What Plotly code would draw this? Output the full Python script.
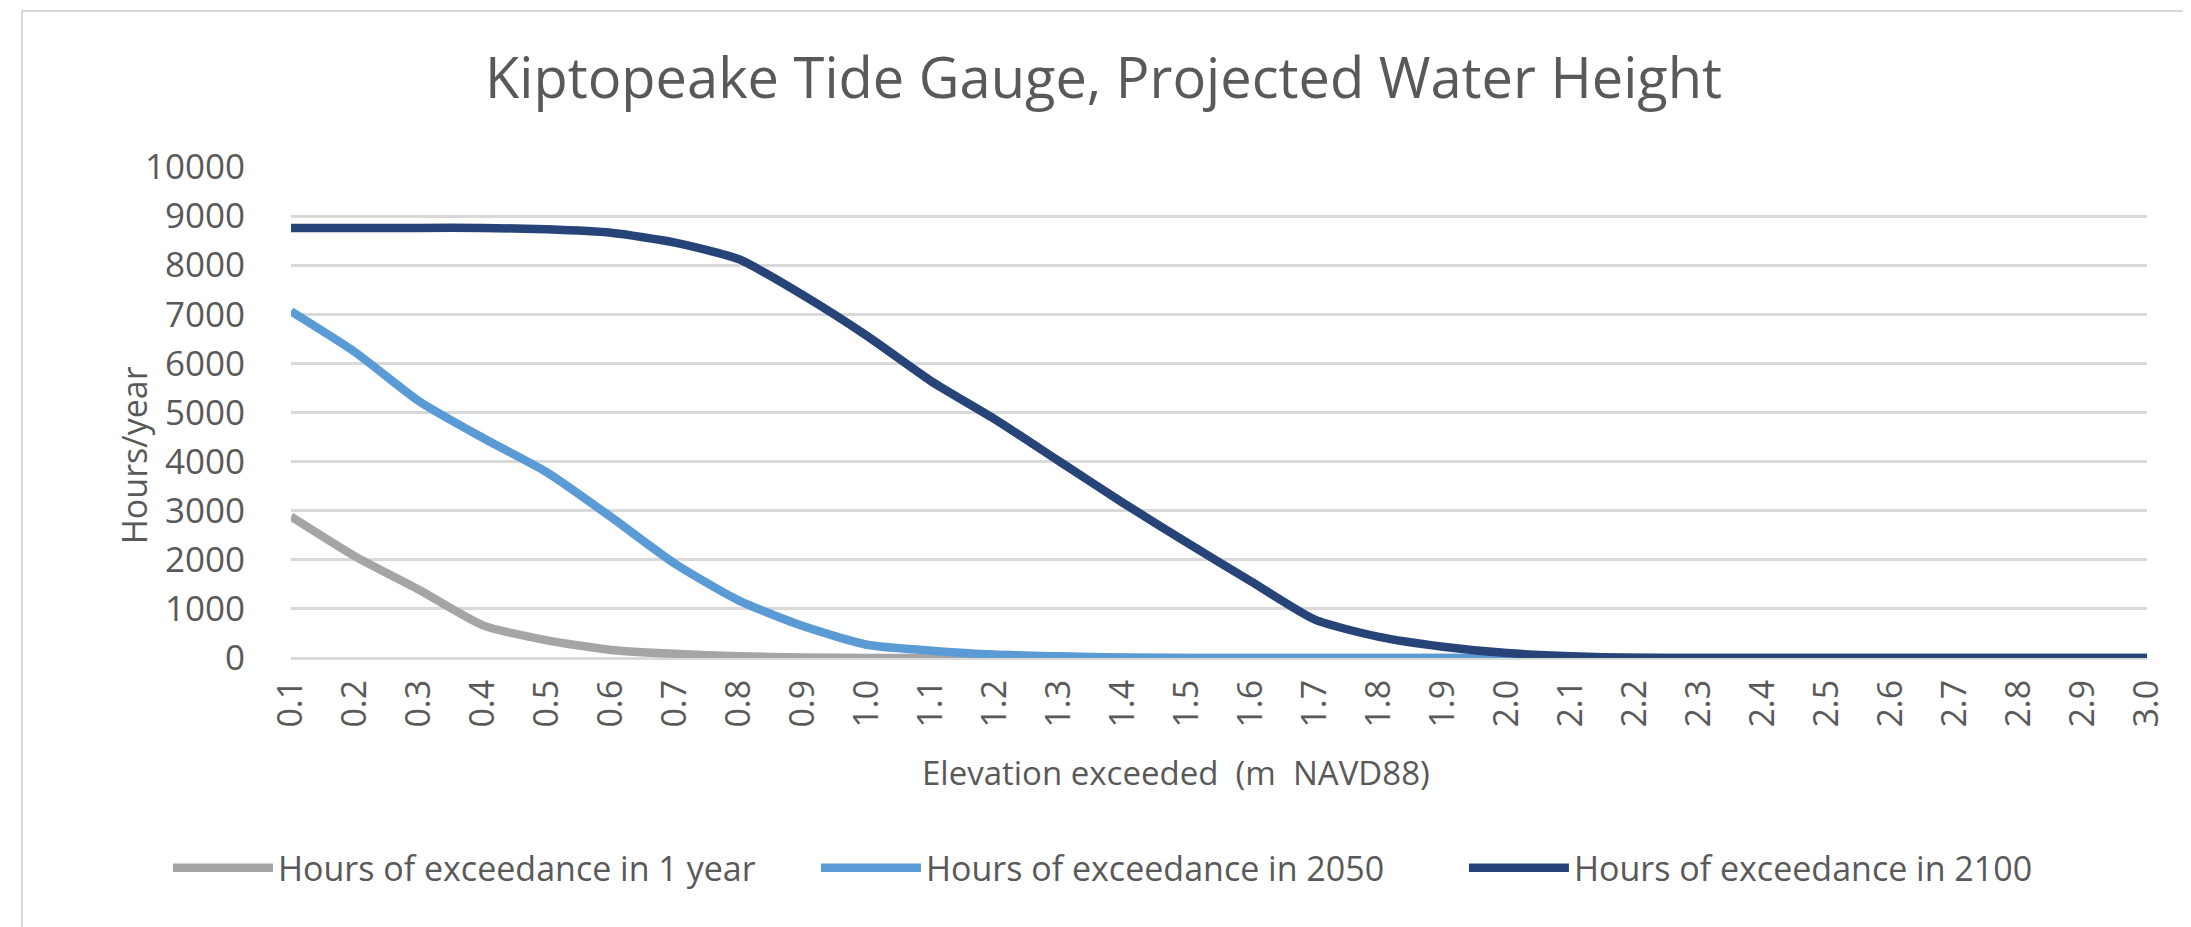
"""
Kiptopeake tide gauge - hours of exceedance by elevation
"""

import plotly.graph_objects as go

elevation = [
    "0.1", "0.2", "0.3", "0.4", "0.5", "0.6", "0.7", "0.8", "0.9", "1.0",
    "1.1", "1.2", "1.3", "1.4", "1.5", "1.6", "1.7", "1.8", "1.9", "2.0",
    "2.1", "2.2", "2.3", "2.4", "2.5", "2.6", "2.7", "2.8", "2.9", "3.0",
]

hours_1_year = [
    2880, 2070, 1390, 665, 360, 165, 85, 35, 10, 0,
    0, 0, 0, 0, 0, 0, 0, 0, 0, 0,
    0, 0, 0, 0, 0, 0, 0, 0, 0, 0,
]

hours_2050 = [
    7060, 6230, 5230, 4480, 3780, 2870, 1920, 1170, 650, 270,
    150, 70, 35, 10, 0, 0, 0, 0, 0, 0,
    0, 0, 0, 0, 0, 0, 0, 0, 0, 0,
]

hours_2100 = [
    8760, 8760, 8760, 8760, 8730, 8660, 8460, 8120, 7390, 6560,
    5640, 4860, 4010, 3160, 2350, 1560, 780, 430, 230, 100,
    35, 5, 0, 0, 0, 0, 0, 0, 0, 0,
]

series_names = [
    "Hours of exceedance in 1 year",
    "Hours of exceedance in 2050",
    "Hours of exceedance in 2100",
]
series_colors = ["#a5a5a5", "#5b9bd5", "#264478"]

FONT = "Open Sans"
TEXT = "#595959"
GRID = "#d9d9d9"

fig = go.Figure()

for name, values, color in zip(
    series_names,
    [hours_1_year, hours_2050, hours_2100],
    series_colors,
):
    fig.add_trace(
        go.Scatter(
            x=elevation,
            y=values,
            name=name,
            mode="lines",
            line=dict(color=color, width=8.5, shape="spline", smoothing=0.6),
        )
    )

fig.update_layout(
    width=2191,
    height=927,
    paper_bgcolor="white",
    plot_bgcolor="white",
    margin=dict(l=283, r=52, t=159, b=277),
    font=dict(family=FONT, color=TEXT, size=34),
    title=dict(
        text="Kiptopeake Tide Gauge, Projected Water Height",
        x=0.5,
        xref="container",
        xanchor="center",
        y=1 - 70 / 927,
        yanchor="middle",
        font=dict(family=FONT, size=56, color=TEXT),
    ),
    showlegend=True,
    legend=dict(
        orientation="h",
        x=-0.0663,
        xanchor="left",
        y=-0.428,
        yanchor="middle",
        font=dict(family=FONT, size=34, color=TEXT),
        itemwidth=100,
        entrywidth=533,
        bgcolor="rgba(0,0,0,0)",
    ),
)

fig.update_xaxes(
    type="category",
    tickangle=-90,
    showgrid=False,
    showline=False,
    ticks="",
    ticklabelstandoff=14,
    tickfont=dict(family=FONT, size=34, color=TEXT),
)

fig.update_yaxes(
    range=[0, 10000],
    dtick=1000,
    tickformat="d",
    showgrid=True,
    gridcolor=GRID,
    gridwidth=3,
    zeroline=True,
    zerolinecolor=GRID,
    zerolinewidth=3,
    ticks="",
    ticklabelstandoff=45,
    tickfont=dict(family=FONT, size=35, color=TEXT),
)

# axis titles placed like the original
fig.add_annotation(
    text="Hours/year",
    xref="paper",
    yref="paper",
    x=-0.0846,
    y=0.413,
    xanchor="center",
    yanchor="middle",
    textangle=-90,
    showarrow=False,
    font=dict(family=FONT, size=34, color=TEXT),
)
fig.add_annotation(
    text="Elevation exceeded\u00a0 (m\u00a0 NAVD88)",
    xref="paper",
    yref="paper",
    x=0.477,
    y=-0.234,
    xanchor="center",
    yanchor="middle",
    showarrow=False,
    font=dict(family=FONT, size=33, color=TEXT),
)

# chart area border
fig.add_shape(
    type="rect",
    xref="paper",
    yref="paper",
    x0=-0.1449,
    x1=1.0248,
    y0=-0.62,
    y1=1.3177,
    line=dict(color=GRID, width=2),
    layer="below",
)

fig.write_html("out.html")
